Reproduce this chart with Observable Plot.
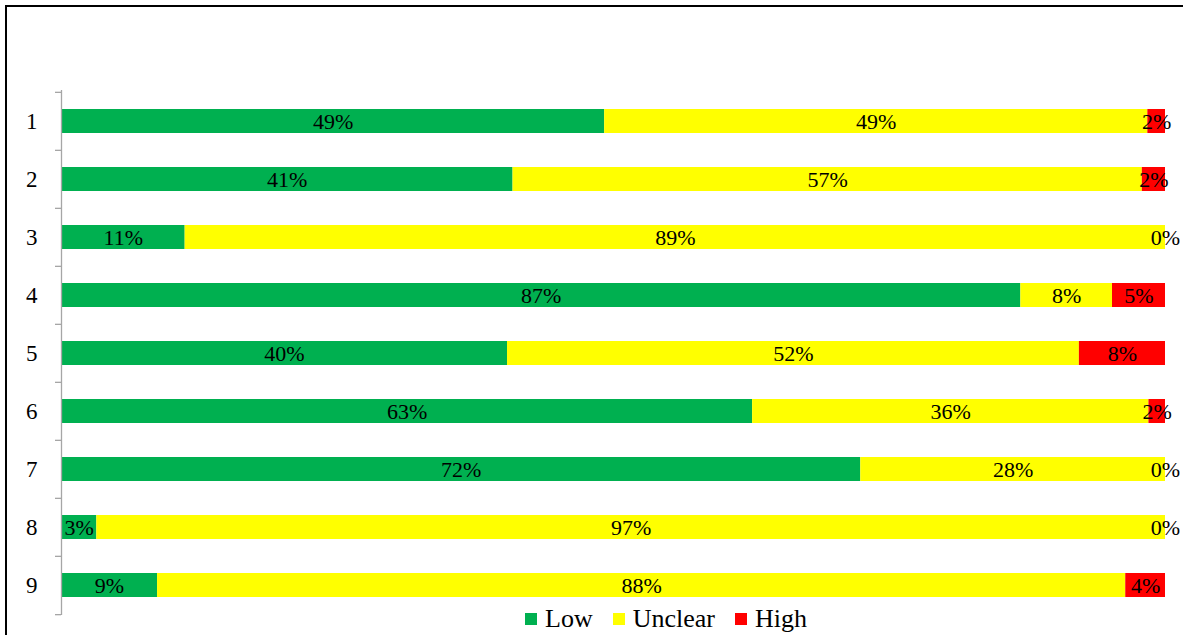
<!DOCTYPE html>
<html>
<head>
<meta charset="utf-8">
<script src="https://cdn.jsdelivr.net/npm/d3@7"></script>
<script src="https://cdn.jsdelivr.net/npm/@observablehq/plot@0.6"></script>
<style>
  html, body { margin: 0; padding: 0; background: #fff; }
  #wrap { position: relative; width: 1183px; height: 635px; overflow: hidden; font-family: "Liberation Serif", "Times New Roman", serif; }
  #frame { position: absolute; left: 5px; top: 5px; width: 1300px; height: 700px; border-top: 2px solid #000; border-left: 2px solid #000; pointer-events: none; }
  #chart { position: absolute; left: 0; top: 0; }
  #legend { position: absolute; left: 525px; top: 604px; display: flex; align-items: center; font-size: 26px; color: #000; font-family: "Liberation Serif", "Times New Roman", serif; line-height: 30px; }
  .item { display: flex; align-items: center; margin-right: 20px; }
  .sw { width: 12px; height: 12px; margin-right: 8px; }
</style>
</head>
<body>
<div id="wrap">
  <div id="chart"></div>
  <div id="frame"></div>
  <div id="legend"></div>
</div>
<script>
const categories = ["1", "2", "3", "4", "5", "6", "7", "8", "9"];
const series = ["Low", "Unclear", "High"];
const colors = ["#00B050", "#FFFF00", "#FF0000"];
const low     = [49.2, 40.9, 11.2, 86.9, 40.4, 62.6, 72.4, 3.2, 8.7];
const unclear = [49.2, 57.0, 88.8, 8.3, 51.8, 35.9, 27.6, 96.8, 87.7];
const high    = [1.6, 2.1, 0.0, 4.8, 7.8, 1.5, 0.0, 0.0, 3.6];

const seriesValues = [low, unclear, high];
const data = [];
categories.forEach((c, i) => {
  series.forEach((s, j) => {
    data.push({cat: c, key: s, value: seriesValues[j][i]});
  });
});

const W = 1183, H = 635, mTop = 90, mBottom = 20, mLeft = 61, mRight = 18;
const step = (H - mTop - mBottom) / categories.length;
const pxPerUnit = (W - mLeft - mRight) / 100;

const fontFamily = "Liberation Serif, Times New Roman, serif";

const plot = Plot.plot({
  width: W,
  height: H,
  marginTop: mTop,
  marginBottom: mBottom,
  marginLeft: mLeft,
  marginRight: mRight,
  style: {fontFamily, background: "transparent"},
  x: {domain: [0, 100], axis: null},
  y: {domain: categories, paddingInner: 0.59, paddingOuter: 0.295, axis: null, label: null},
  color: {domain: series, range: colors},
  marks: [
    Plot.barX(data, Plot.stackX({x: "value", y: "cat", fill: "key", order: series})),
    Plot.ruleX([0], {stroke: "#A6A6A6", strokeWidth: 1.3}),
    Plot.ruleY(categories, {y: d => d, x1: -6 / pxPerUnit, x2: 0, dy: -step / 2, stroke: "#A6A6A6", strokeWidth: 1.3}),
    Plot.ruleY([categories[categories.length - 1]], {y: d => d, x1: -6 / pxPerUnit, x2: 0, dy: step / 2, stroke: "#A6A6A6", strokeWidth: 1.3}),
    Plot.axisY({tickSize: 0, tickPadding: 24, fontSize: 23, fontFamily, fill: "#000", label: null}),
    Plot.text(data, Plot.stackX({
      x: "value", y: "cat", z: "key", order: series,
      text: d => Math.round(d.value) + "%",
      fontSize: 22, fill: "#000", fontFamily
    }))
  ]
});
document.getElementById("chart").appendChild(plot);

const legend = document.getElementById("legend");
series.forEach((s, i) => {
  const it = document.createElement("div");
  it.className = "item";
  const sw = document.createElement("div");
  sw.className = "sw";
  sw.style.background = colors[i];
  const t = document.createElement("span");
  t.textContent = s;
  it.appendChild(sw);
  it.appendChild(t);
  legend.appendChild(it);
});
</script>
</body>
</html>
